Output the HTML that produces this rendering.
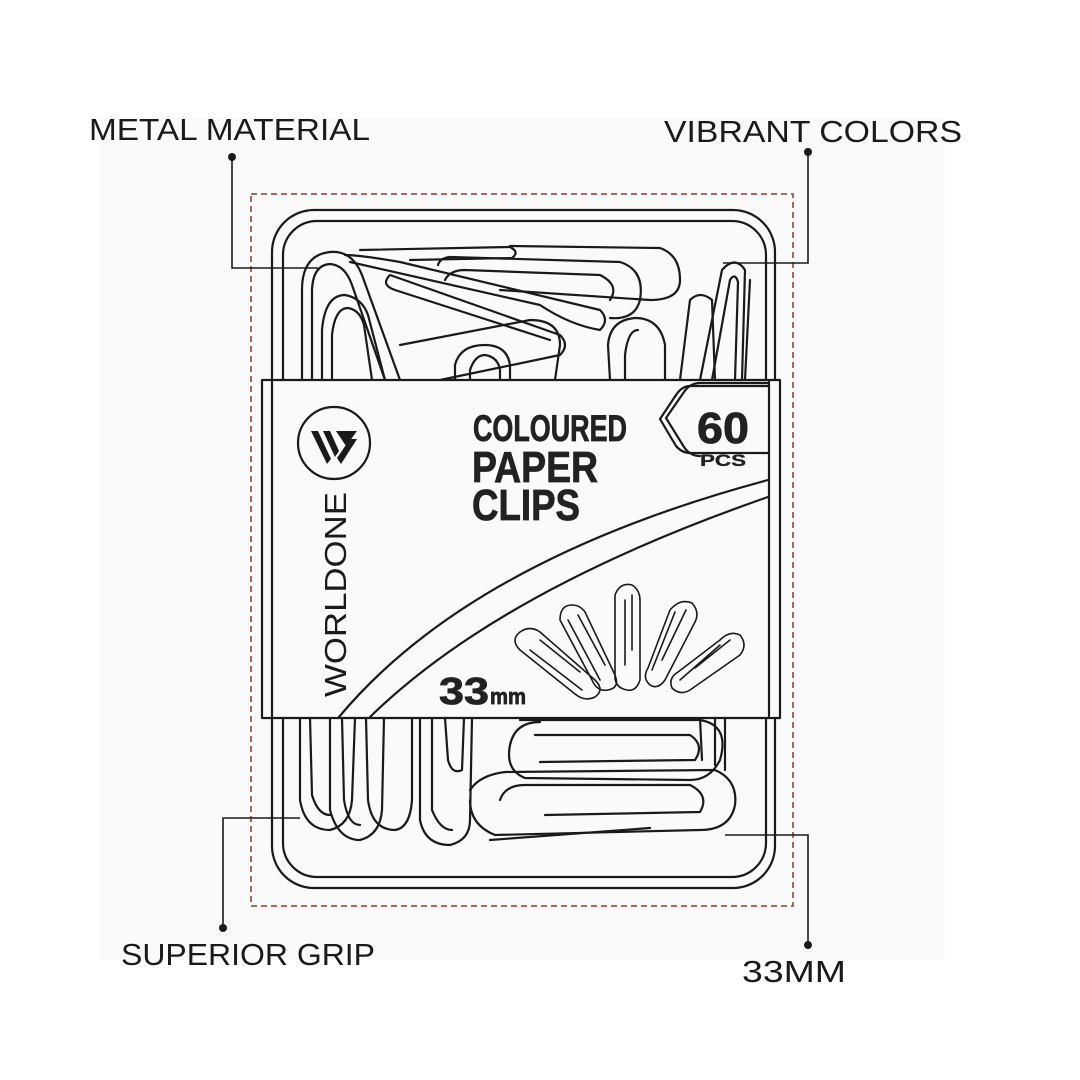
<!DOCTYPE html>
<html><head><meta charset="utf-8"><style>
html,body{margin:0;padding:0;background:#fff}
svg{display:block}
text{font-family:"Liberation Sans",sans-serif}
</style></head><body>
<svg width="1080" height="1080" viewBox="0 0 1080 1080" xmlns="http://www.w3.org/2000/svg">
<rect width="1080" height="1080" fill="#fff"/>
<rect x="100" y="118" width="845" height="842" fill="#fafafa"/>
<rect x="251" y="194" width="542" height="712" fill="none" stroke="#8b3a2b" stroke-width="1.5" stroke-dasharray="6,4"/>
<g fill="none" stroke="#1a1a1a" stroke-width="2.2" stroke-linecap="round" stroke-linejoin="round">
<rect x="272" y="210" width="503" height="678" rx="42"/>
<rect x="283" y="221" width="483" height="656" rx="34"/>
<path d="M302 380 L302 290 Q302 255 330 252 Q352 250 362 275 L400 380"/>
<path d="M312 380 L312 290 Q313 265 330 264 Q345 265 352 285 L385 380"/>
<path d="M322 380 L322 330 Q325 295 345 295 Q362 298 368 315 L385 380"/>
<path d="M332 380 L332 335 Q335 308 348 308 Q360 310 364 325 L372 380"/>
<path d="M350 262 L540 305 Q570 325 600 330 Q610 320 600 310 L400 262 Q360 255 345 255"/>
<path d="M360 250 L510 247 Q520 252 512 258 L410 260"/>
<path d="M510 246 L660 248 Q680 255 680 280 Q680 300 650 300 L500 290"/>
<path d="M440 380 L560 355 Q570 345 560 335 L390 275 Q380 285 395 290 L550 340"/>
<path d="M400 345 L530 320 Q560 320 560 345 L555 380"/>
<path d="M455 380 L455 365 Q460 345 485 345 Q507 345 510 365 L510 380"/>
<path d="M470 380 L470 370 Q475 355 485 355 Q498 357 500 370 L500 380"/>
<path d="M438 265 Q440 258 450 257 L620 262 Q645 270 640 300 Q635 320 610 318"/>
<path d="M445 280 Q450 270 465 270 L600 275 Q620 285 610 300"/>
<path d="M610 380 L608 345 Q610 320 635 318 Q660 318 665 345 L665 380"/>
<path d="M625 380 L625 355 Q628 330 638 330"/>
<path d="M680 380 L690 300 Q700 290 712 300 L715 380"/>
<path d="M700 380 L722 270 Q735 255 745 270 L742 380"/>
<path d="M712 380 L730 280 Q735 272 738 282 L735 380"/>
<path d="M745 380 L750 280"/>
<rect x="262" y="380" width="518" height="338" fill="#fafafa"/>
<line x1="272" y1="382" x2="272" y2="716"/>
<line x1="769" y1="382" x2="769" y2="716"/>
<path d="M339 717 Q470 560 768 480"/>
<path d="M370 717 Q500 590 768 497"/>
<path d="M768 386 L690 386 Q682 386 676 395 L660 419 L676 446 Q682 453 690 453 L768 453"/>
<path d="M768 383 L700 383 Q690 383 684 392 L666 418 L684 447 Q690 456 700 456"/>
<circle cx="334" cy="443" r="36"/>
<g stroke-width="1.6">
<path d="M520 650 Q510 640 520 632 Q530 625 540 632 L595 680 Q605 690 595 697 Q585 702 575 694 Z"/>
<path d="M530 650 L582 690 M540 640 L580 672"/>
<path d="M560 620 Q560 605 572 605 Q580 605 585 612 L615 675 Q620 688 608 690 Q597 692 592 680 Z"/>
<path d="M568 620 L600 680 M578 615 L605 665"/>
<path d="M615 595 Q620 582 632 585 Q640 590 640 600 L640 680 Q636 692 627 690 Q616 688 615 678 Z"/>
<path d="M625 600 L625 665 M632 595 L632 650"/>
<path d="M670 610 Q680 598 692 603 Q700 612 695 622 L665 680 Q658 690 650 685 Q642 678 648 668 Z"/>
<path d="M675 612 L652 670 M686 610 L662 660"/>
<path d="M720 640 Q730 630 740 635 Q748 645 740 655 L690 690 Q680 696 672 688 Q668 678 678 672 Z"/>
<path d="M720 645 L680 680 M730 640 L695 668"/>
</g>
<path d="M300 718 L300 800 Q305 830 330 830 Q350 825 352 800 L355 718"/>
<path d="M310 718 L312 795 Q318 815 330 815"/>
<path d="M330 718 L330 810 Q338 840 360 840 Q380 835 382 810 L384 718"/>
<path d="M342 718 L344 800 Q348 825 360 825"/>
<path d="M366 718 L368 800 Q372 830 395 830 Q410 828 412 800 L412 718"/>
<path d="M420 718 L420 820 Q425 845 450 845 Q470 840 470 820 L472 718"/>
<path d="M432 718 L432 810 Q440 830 452 830"/>
<path d="M445 718 L448 760 Q452 775 462 770 L464 718"/>
<path d="M520 720 L700 720 Q730 725 720 760 Q710 780 690 780 L525 778 Q505 770 510 745 Q515 722 540 722"/>
<path d="M535 735 L690 735 Q705 745 695 760 L540 762"/>
<path d="M470 790 Q480 775 505 772 L715 770 Q738 780 735 805 Q730 830 700 830 L495 835 Q470 825 470 800"/>
<path d="M500 800 Q505 785 525 785 L690 785 Q710 795 700 812 L545 815"/>
<path d="M490 840 L650 828"/>
<path d="M700 718 L702 760 M715 718 L715 765 M725 718 L725 770"/>
</g>
<g fill="#1a1a1a">
<polygon points="311,431 318,431 331,459 327,464"/>
<polygon points="323,431 330,431 339,451 335,457"/>
<polygon points="336,431 357,431 346,446"/>
<polygon points="350,439 357,439 341,464 337,458"/>
</g>
<text x="346" y="697" transform="rotate(-90 346 697)" font-size="31" fill="#1a1a1a" textLength="205" lengthAdjust="spacingAndGlyphs">WORLDONE</text>
<g fill="#222" font-weight="bold" stroke="#222" stroke-width="0.8">
<text x="473" y="441" font-size="37" textLength="154" lengthAdjust="spacingAndGlyphs">COLOURED</text>
<text x="472" y="482" font-size="44" textLength="126" lengthAdjust="spacingAndGlyphs">PAPER</text>
<text x="472" y="520" font-size="44" textLength="108" lengthAdjust="spacingAndGlyphs">CLIPS</text>
<text x="697" y="443" font-size="44" textLength="52" lengthAdjust="spacingAndGlyphs">60</text>
<text x="700" y="466" font-size="17" stroke-width="0.3" textLength="46" lengthAdjust="spacingAndGlyphs">PCS</text>
<text x="439" y="704" font-size="38" textLength="50" lengthAdjust="spacingAndGlyphs">33</text>
<text x="490" y="704" font-size="22" textLength="36" lengthAdjust="spacingAndGlyphs">mm</text>
</g>
<g fill="none" stroke="#1a1a1a" stroke-width="1.6">
<polyline points="232,157 232,268 318,268"/>
<polyline points="808,152 808,263 723,263"/>
<polyline points="223,928 223,818 300,818"/>
<polyline points="808,945 808,835 725,835"/>
</g>
<g fill="#1a1a1a">
<circle cx="232" cy="157" r="4"/><circle cx="808" cy="152" r="4"/>
<circle cx="223" cy="928" r="4"/><circle cx="808" cy="945" r="4"/>
</g>
<g font-size="31" fill="#1a1a1a">
<text x="89" y="140" textLength="281" lengthAdjust="spacingAndGlyphs">METAL MATERIAL</text>
<text x="664" y="142" textLength="298" lengthAdjust="spacingAndGlyphs">VIBRANT COLORS</text>
<text x="121" y="965" textLength="254" lengthAdjust="spacingAndGlyphs">SUPERIOR GRIP</text>
<text x="742" y="982" textLength="104" lengthAdjust="spacingAndGlyphs">33MM</text>
</g>
</svg>
</body></html>
